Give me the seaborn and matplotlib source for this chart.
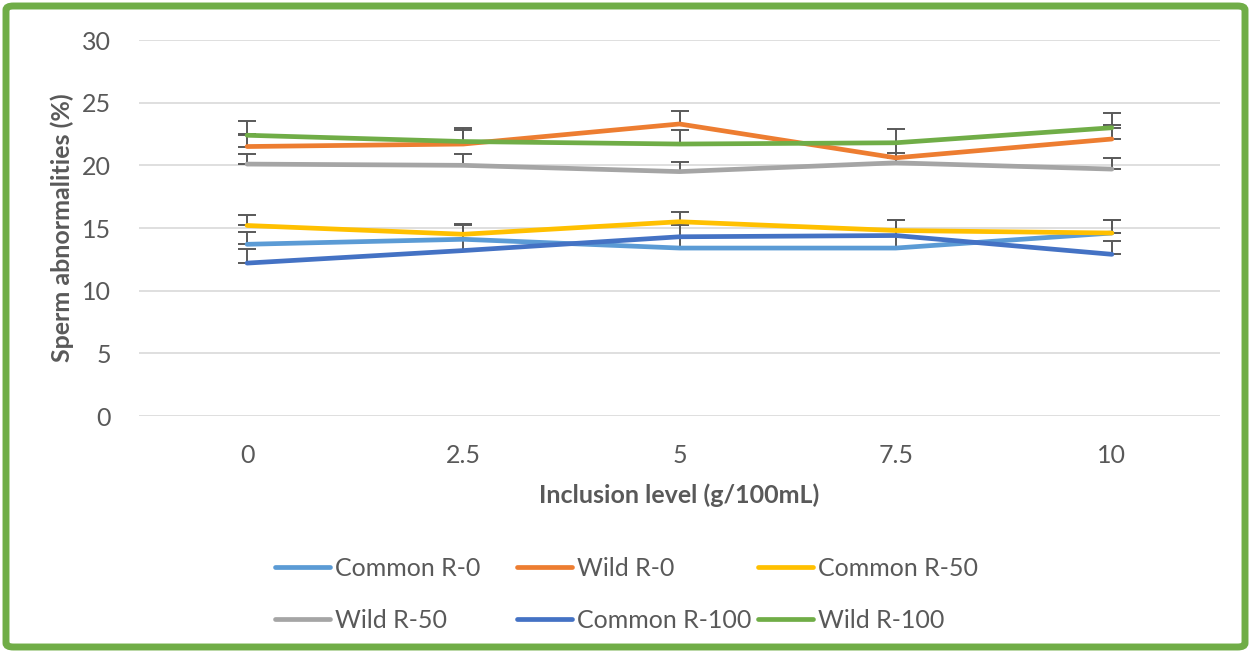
import numpy as np
import pandas as pd
import matplotlib
matplotlib.use("Agg")
import matplotlib.pyplot as plt
import seaborn as sns
from matplotlib.patches import FancyBboxPatch
from matplotlib.lines import Line2D

# ---- data ----
levels = ["0", "2.5", "5", "7.5", "10"]
series_names = ["Common R-0", "Wild R-0", "Common R-50", "Wild R-50", "Common R-100", "Wild R-100"]
common_r0 = [13.7, 14.1, 13.4, 13.4, 14.6]
wild_r0 = [21.5, 21.7, 23.3, 20.6, 22.1]
common_r50 = [15.2, 14.5, 15.5, 14.8, 14.6]
wild_r50 = [20.1, 20.0, 19.5, 20.2, 19.7]
common_r100 = [12.2, 13.2, 14.3, 14.4, 12.9]
wild_r100 = [22.4, 21.9, 21.7, 21.8, 23.0]

err_common_r0 = [1.0, 1.1, 1.0, 1.0, 1.0]
err_wild_r0 = [1.0, 1.1, 1.0, 1.2, 1.1]
err_common_r50 = [0.8, 0.8, 0.8, 0.8, 1.0]
err_wild_r50 = [0.8, 0.9, 0.8, 0.8, 0.9]
err_common_r100 = [1.1, 0.9, 0.9, 1.2, 1.1]
err_wild_r100 = [1.1, 1.1, 1.1, 1.1, 1.2]

values = [common_r0, wild_r0, common_r50, wild_r50, common_r100, wild_r100]
errors = [err_common_r0, err_wild_r0, err_common_r50, err_wild_r50, err_common_r100, err_wild_r100]
colors = ["#5B9BD5", "#ED7D31", "#FFC000", "#A5A5A5", "#4472C4", "#70AD47"]

rows = []
for name, vals in zip(series_names, values):
    for i, v in enumerate(vals):
        rows.append({"pos": i, "level": levels[i], "series": name, "value": v})
df = pd.DataFrame(rows)

# ---- style ----
sns.set_theme(style="white")
plt.rcParams["font.family"] = ["Lato", "DejaVu Sans"]
text_color = "#595959"
fs = 18

fig = plt.figure(figsize=(12.51, 6.53), dpi=100)
ax = fig.add_axes([139 / 1251, 1 - 416 / 653, (1220 - 139) / 1251, (416 - 40) / 653])

# error bars (plus direction only)
for vals, errs in zip(values, errors):
    ax.errorbar(range(len(levels)), vals, yerr=[np.zeros(len(errs)), errs],
                fmt="none", ecolor="#595959", elinewidth=1.4, capsize=6.5, capthick=1.4, zorder=2)

sns.lineplot(data=df, x="pos", y="value", hue="series", hue_order=series_names,
             palette=colors, linewidth=3.4, ax=ax, legend=False, zorder=3,
             solid_capstyle="round")

ax.set_xlim(-0.5, len(levels) - 0.5)
ax.set_ylim(0, 30)
ax.set_yticks(np.arange(0, 31, 5))
ax.set_xticks(range(len(levels)))
ax.set_xticklabels(levels)
ax.grid(axis="y", color="#D9D9D9", linewidth=1.2)
ax.grid(axis="x", visible=False)
for s in ax.spines.values():
    s.set_visible(False)
ax.tick_params(axis="both", length=0, labelsize=fs, colors=text_color)
ax.tick_params(axis="y", pad=20)
ax.tick_params(axis="x", pad=20)
ax.set_xlabel("Inclusion level (g/100mL)", fontsize=fs, fontweight="bold", color=text_color, labelpad=12)
ax.set_ylabel("Sperm abnormalities (%)", fontsize=fs, fontweight="bold", color=text_color, labelpad=6)
ax.set_axisbelow(True)

# legend: three columns placed at fixed positions
col_x = [275, 517, 758]
for c in range(3):
    idxs = [c, c + 3]
    handles = [Line2D([0], [0], color=colors[i], linewidth=3.4, solid_capstyle="round") for i in idxs]
    labels = [series_names[i] for i in idxs]
    leg = fig.legend(handles, labels, loc="upper left",
                     bbox_to_anchor=(col_x[c] / 1251, 1 - 557 / 653),
                     frameon=False, fontsize=fs, handlelength=2.2, handletextpad=0.2,
                     borderpad=0, borderaxespad=0, labelspacing=1.15)
    for t in leg.get_texts():
        t.set_color(text_color)

# green rounded border
border = FancyBboxPatch((6 / 1251, 6 / 653), 1 - 12 / 1251, 1 - 12 / 653,
                        boxstyle="round,pad=0,rounding_size=0.006",
                        transform=fig.transFigure, fill=False,
                        edgecolor="#70AD47", linewidth=5)
fig.patches.append(border)

fig.savefig("out.png", dpi=100)
